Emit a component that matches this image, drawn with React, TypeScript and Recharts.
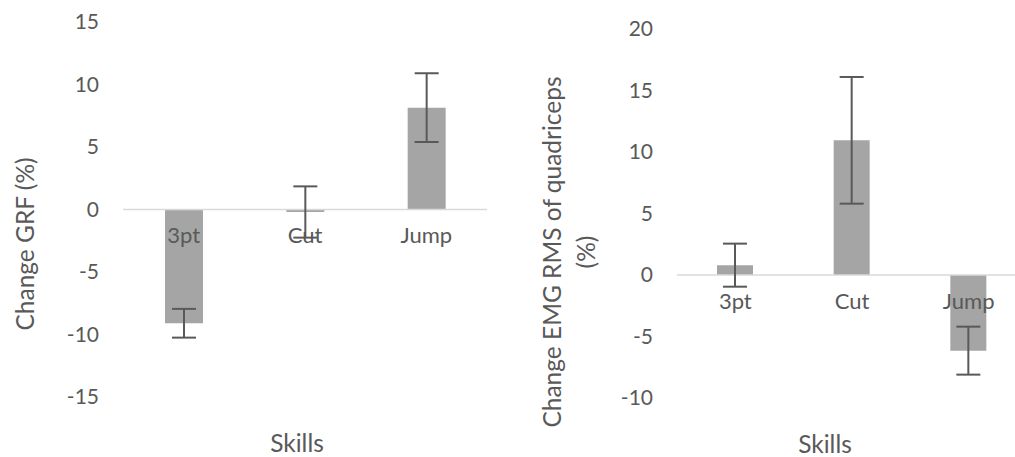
import { ComposedChart, Bar, Line, XAxis, YAxis, ErrorBar, ReferenceLine, LabelList } from 'recharts'

const skills = ['3pt', 'Cut', 'Jump']
const grfChange = [-9.1, -0.2, 8.15]
const grfError = [1.15, 2.05, 2.75]
const emgChange = [0.8, 10.95, -6.15]
const emgError = [1.75, 5.15, 1.95]
const grfTicks = [-15, -10, -5, 0, 5, 10, 15]
const emgTicks = [-10, -5, 0, 5, 10, 15, 20]

const FONT = 'Lato, "Open Sans", sans-serif'
const TEXT = '#595959'

function Panel({
  values,
  errors,
  ticks,
  width,
  axisWidth,
  top,
  bottom,
  right,
  barSize,
}: {
  values: number[]
  errors: number[]
  ticks: number[]
  width: number
  axisWidth: number
  top: number
  bottom: number
  right: number
  barSize: number
}) {
  const data = skills.map((skill, i) => ({ skill, value: values[i], err: errors[i], zero: 0 }))
  return (
    <ComposedChart
      width={width}
      height={457}
      data={data}
      margin={{ top, bottom, left: 0, right }}
      style={{ fontFamily: FONT }}
    >
      <XAxis dataKey="skill" hide />
      <YAxis
        width={axisWidth}
        domain={[ticks[0], ticks[ticks.length - 1]]}
        ticks={ticks}
        axisLine={false}
        tickLine={false}
        tickSize={0}
        tickMargin={24}
        tick={{ fill: TEXT, fontSize: 21, fontFamily: FONT }}
      />
      <ReferenceLine y={0} stroke="#d9d9d9" strokeWidth={1.5} />
      <Bar dataKey="value" fill="#a5a5a5" barSize={barSize} isAnimationActive={false}>
        <ErrorBar dataKey="err" width={12} stroke={TEXT} strokeWidth={2} direction="y" />
      </Bar>
      <Line dataKey="zero" stroke="none" dot={false} activeDot={false} legendType="none" isAnimationActive={false}>
        <LabelList dataKey="skill" position="bottom" offset={18} fill={TEXT} fontSize={22} fontFamily={FONT} />
      </Line>
    </ComposedChart>
  )
}

const title: React.CSSProperties = {
  position: 'absolute',
  color: TEXT,
  fontFamily: FONT,
  fontSize: 24.5,
  lineHeight: 1,
  whiteSpace: 'nowrap',
  transform: 'translate(-50%, -50%)',
}

export default function App() {
  return (
    <div
      style={{
        position: 'fixed',
        left: 0,
        top: 0,
        width: 1015,
        height: 457,
        overflow: 'hidden',
        background: '#fff',
      }}
    >
      <div style={{ position: 'absolute', left: 0, top: 0 }}>
        <Panel values={grfChange} errors={grfError} ticks={grfTicks} width={500} axisWidth={123} top={22} bottom={60} right={13} barSize={38} />
      </div>
      <div style={{ position: 'absolute', left: 500, top: 0 }}>
        <Panel values={emgChange} errors={emgError} ticks={emgTicks} width={540} axisWidth={177} top={29} bottom={59} right={13} barSize={36} />
      </div>
      <div style={{ ...title, left: 25, top: 244, transform: 'translate(-50%, -50%) rotate(-90deg)' }}>Change GRF (%)</div>
      <div
        style={{
          ...title,
          left: 569,
          top: 252,
          textAlign: 'center',
          lineHeight: '34px',
          transform: 'translate(-50%, -50%) rotate(-90deg)',
        }}
      >
        Change EMG RMS of quadriceps
        <br />
        (%)
      </div>
      <div style={{ ...title, left: 297, top: 443 }}>Skills</div>
      <div style={{ ...title, left: 825, top: 444 }}>Skills</div>
    </div>
  )
}
